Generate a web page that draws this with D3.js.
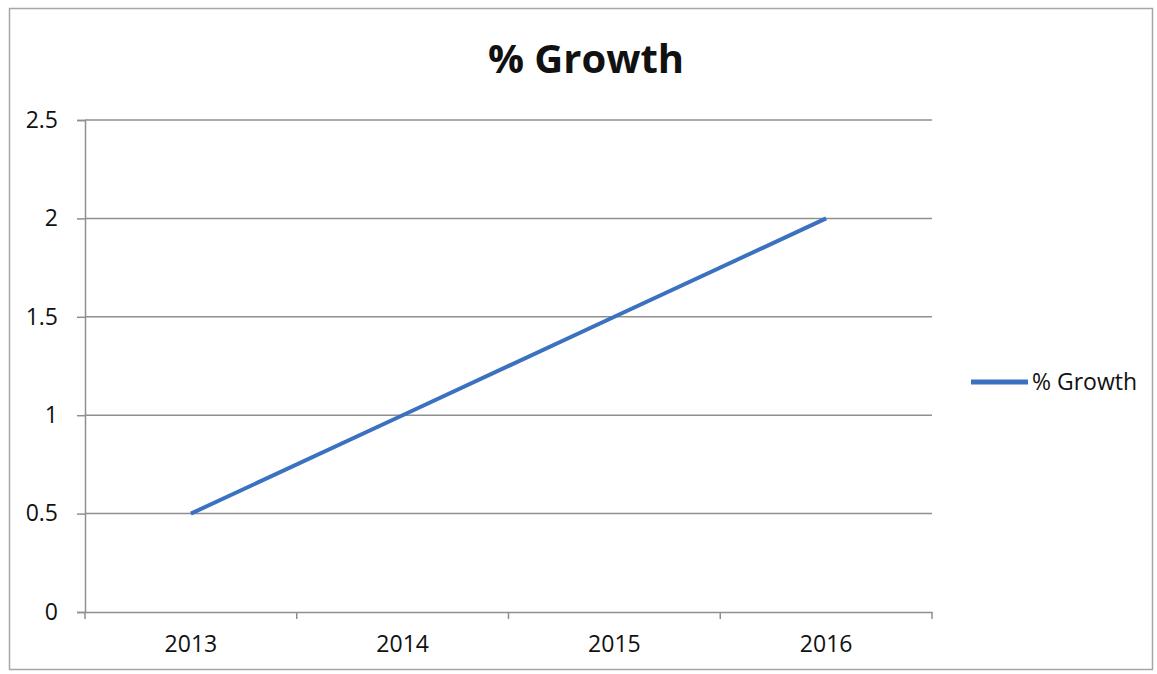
<!DOCTYPE html>
<html>
<head>
<meta charset="utf-8">
<script src="https://cdn.jsdelivr.net/npm/d3@7"></script>
<style>
  body { margin: 0; background: #fff; }
  text { font-family: 'Open Sans', 'Noto Sans', sans-serif; fill: #111; }
</style>
</head>
<body>
<div id="chart"></div>
<script>
const years = ['2013', '2014', '2015', '2016']
const growth = [0.5, 1, 1.5, 2]
const yTicks = [0, 0.5, 1, 1.5, 2, 2.5]
const seriesName = '% Growth'

const W = 1157
const H = 674
const margin = { top: 120, left: 85, right: 225, bottom: 62 }
const width = W - margin.left - margin.right
const height = H - margin.top - margin.bottom

const frame = d3
  .select('#chart')
  .append('svg')
  .attr('width', W)
  .attr('height', H)

// outer chart border
frame
  .append('rect')
  .attr('x', 9.5)
  .attr('y', 8.5)
  .attr('width', 1143)
  .attr('height', 661)
  .attr('fill', 'none')
  .attr('stroke', '#a6a6a6')
  .attr('stroke-width', 1.5)

frame
  .append('text')
  .attr('x', 586)
  .attr('y', 73)
  .attr('text-anchor', 'middle')
  .attr('font-size', 40)
  .attr('font-weight', 'bold')
  .text(seriesName)

const svg = frame
  .append('g')
  .attr('transform', `translate(${margin.left},${margin.top})`)

const xScale = d3
  .scaleBand()
  .domain(years)
  .range([0, width])

const yScale = d3
  .scaleLinear()
  .domain([0, 2.5])
  .range([height, 0])

// gridlines
svg
  .selectAll('.grid')
  .data(yTicks.filter(d => d > 0))
  .enter()
  .append('line')
  .attr('x1', 0)
  .attr('x2', width)
  .attr('y1', d => yScale(d))
  .attr('y2', d => yScale(d))
  .attr('stroke', '#8f8f8f')
  .attr('stroke-width', 1.5)

const yAxis = svg
  .append('g')
  .call(
    d3
      .axisLeft(yScale)
      .tickValues(yTicks)
      .tickFormat(d => d)
      .tickSize(8)
      .tickPadding(19)
  )
yAxis.select('.domain').attr('stroke', '#8f8f8f').attr('stroke-width', 1.5)
yAxis.selectAll('line').attr('stroke', '#8f8f8f').attr('stroke-width', 1.5)
yAxis
  .selectAll('text')
  .attr('font-size', 23)
  .style('font-family', "'Open Sans', sans-serif")
  .attr('fill', '#111')

const xAxis = svg
  .append('g')
  .attr('transform', `translate(0,${height})`)
  .call(d3.axisBottom(xScale).tickSize(0).tickPadding(24))
xAxis.select('.domain').attr('stroke', '#8f8f8f').attr('stroke-width', 1.5)
xAxis
  .selectAll('text')
  .attr('font-size', 23)
  .style('font-family', "'Open Sans', sans-serif")
  .attr('fill', '#111')

// category boundary ticks
const bounds = years.map(d => xScale(d)).concat([width])
svg
  .selectAll('.xtick')
  .data(bounds)
  .enter()
  .append('line')
  .attr('x1', d => d)
  .attr('x2', d => d)
  .attr('y1', height)
  .attr('y2', height + 7)
  .attr('stroke', '#8f8f8f')
  .attr('stroke-width', 1.5)

const line = d3
  .line()
  .x((d, i) => xScale(years[i]) + xScale.bandwidth() / 2)
  .y(d => yScale(d))

svg
  .append('path')
  .datum(growth)
  .attr('d', line)
  .attr('fill', 'none')
  .attr('stroke', '#3a72c0')
  .attr('stroke-width', 4)

// legend
const legend = frame.append('g').attr('transform', 'translate(971,382)')
legend
  .append('line')
  .attr('x1', 0)
  .attr('x2', 57)
  .attr('stroke', '#3a72c0')
  .attr('stroke-width', 5)
legend
  .append('text')
  .attr('x', 61)
  .attr('y', 8)
  .attr('font-size', 23)
  .text(seriesName)
</script>
</body>
</html>
